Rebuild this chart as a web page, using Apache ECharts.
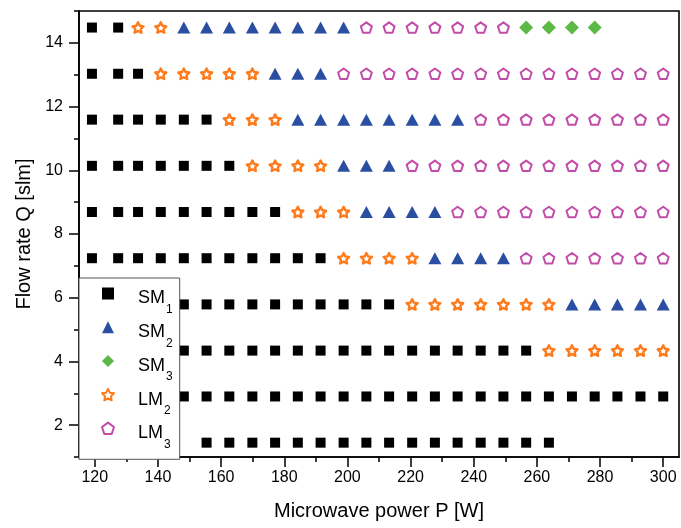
<!DOCTYPE html>
<html>
<head>
<meta charset="utf-8">
<script src="https://cdn.jsdelivr.net/npm/echarts@6/dist/echarts.min.js"></script>
<style>
  html, body { margin: 0; padding: 0; background: #fff; }
  #chart { width: 681px; height: 528px; }
</style>
</head>
<body>
<div id="chart"></div>
<script>
// Microwave power settings [W], one per measurement column
const powerW = [119.1, 127.4, 133.7, 140.9, 148.2, 155.4, 162.6, 169.9, 177.1, 184.3,
                191.5, 198.8, 206.0, 213.2, 220.5, 227.7, 234.9, 242.2, 249.4, 256.6,
                263.8, 271.1, 278.3, 285.5, 292.8, 300.0];

// Gas flow rates [slm], one per measurement row
const flowSlm = [1.45, 2.90, 4.34, 5.79, 7.24, 8.69, 10.14, 11.59, 13.03, 14.48];

// Discharge mode seen along each flow row: [mode, first power column, last power column]
const modeRuns = [
  [['SM1', 5, 20]],
  [['SM1', 4, 25]],
  [['SM1', 4, 19], ['LM2', 20, 25]],
  [['SM1', 4, 13], ['LM2', 14, 20], ['SM2', 21, 25]],
  [['SM1', 0, 10], ['LM2', 11, 14], ['SM2', 15, 18], ['LM3', 19, 25]],
  [['SM1', 0, 8],  ['LM2', 9, 11],  ['SM2', 12, 15], ['LM3', 16, 25]],
  [['SM1', 0, 6],  ['LM2', 7, 10],  ['SM2', 11, 13], ['LM3', 14, 25]],
  [['SM1', 0, 5],  ['LM2', 6, 8],   ['SM2', 9, 16],  ['LM3', 17, 25]],
  [['SM1', 0, 2],  ['LM2', 3, 7],   ['SM2', 8, 10],  ['LM3', 11, 25]],
  [['SM1', 0, 1],  ['LM2', 2, 3],   ['SM2', 4, 11],  ['LM3', 12, 18], ['SM3', 19, 22]]
];

const modes = ['SM1', 'SM2', 'SM3', 'LM2', 'LM3'];

// Axis ticks
const xMajorTicks = [120, 140, 160, 180, 200, 220, 240, 260, 280, 300];
const xMinorTicks = [130, 150, 170, 190, 210, 230, 250, 270, 290];
const yMajorTicks = [2, 4, 6, 8, 10, 12, 14];
const yMinorTicks = [1, 3, 5, 7, 9, 11, 13, 15];

const FONT = '"Liberation Sans", Arial, Helvetica, sans-serif';
const STAR = 'path://M50 0L64.69 29.77L97.55 34.55L73.78 57.73L79.39 90.45L50 75L20.61 90.45L26.22 57.73L2.45 34.55L35.31 29.77Z';
const PENTAGON = 'path://M50 0L97.55 34.55L79.39 90.45L20.61 90.45L2.45 34.55Z';

const modeStyle = {
  SM1: { symbol: 'rect', symbolSize: 10, itemStyle: { color: '#000000', opacity: 1 } },
  SM2: { symbol: 'triangle', symbolSize: [13, 12], itemStyle: { color: '#2a4fa2', opacity: 1 } },
  SM3: { symbol: 'diamond', symbolSize: 14, itemStyle: { color: '#5cb946', opacity: 1 } },
  LM2: { symbol: STAR, symbolSize: 11,
         itemStyle: { color: '#ffffff', borderColor: '#ff7a1a', borderWidth: 2.4, borderJoin: 'round', opacity: 1 } },
  LM3: { symbol: PENTAGON, symbolSize: 11,
         itemStyle: { color: '#ffffff', borderColor: '#c24ca8', borderWidth: 2, borderJoin: 'round', opacity: 1 } }
};

function pointsOf(mode) {
  const pts = [];
  modeRuns.forEach((runs, row) => {
    runs.forEach(([m, from, to]) => {
      if (m !== mode) return;
      for (let c = from; c <= to; c++) pts.push([powerW[c], flowSlm[row]]);
    });
  });
  return pts;
}

const series = modes.map(mode => Object.assign({
  name: mode,
  type: 'scatter',
  xAxisIndex: 0,
  yAxisIndex: 0,
  symbolKeepAspect: true,
  data: pointsOf(mode),
  emphasis: { disabled: true }
}, modeStyle[mode]));

const tickStyle = { color: '#000', width: 1.5 };

const chart = echarts.init(document.getElementById('chart'), null, { renderer: 'canvas' });
chart.setOption({
  animation: false,
  backgroundColor: '#fff',
  textStyle: { fontFamily: FONT },
  grid: {
    left: 79, right: 2, top: 11, bottom: 71,
    show: true, borderColor: '#000', borderWidth: 1.6, backgroundColor: 'transparent',
    outerBoundsMode: 'none'
  },
  xAxis: [
    {
      type: 'value', min: 115, max: 305, interval: 5, position: 'bottom',
      axisLine: { show: true, onZero: false, lineStyle: { color: '#000', width: 1.6 } },
      axisTick: { show: true, customValues: xMajorTicks, length: 10, lineStyle: tickStyle },
      axisLabel: { customValues: xMajorTicks, margin: 13, fontSize: 16, color: '#000', fontFamily: FONT },
      splitLine: { show: false },
      name: 'Microwave power P [W]', nameLocation: 'middle', nameGap: 44,
      nameTextStyle: { fontSize: 20, color: '#000', fontFamily: FONT }
    },
    {
      type: 'value', min: 115, max: 305, interval: 5, position: 'bottom',
      axisLine: { show: false },
      axisTick: { show: true, customValues: xMinorTicks, length: 5, lineStyle: tickStyle },
      axisLabel: { show: false },
      splitLine: { show: false }
    }
  ],
  yAxis: [
    {
      type: 'value', min: 1, max: 15, interval: 1, position: 'left',
      axisLine: { show: true, onZero: false, lineStyle: { color: '#000', width: 1.6 } },
      axisTick: { show: true, customValues: yMajorTicks, length: 10, lineStyle: tickStyle },
      axisLabel: { customValues: yMajorTicks, margin: 16, fontSize: 16, color: '#000', fontFamily: FONT },
      splitLine: { show: false },
      name: 'Flow rate Q [slm]', nameLocation: 'middle', nameGap: 45,
      nameTextStyle: { fontSize: 20, color: '#000', fontFamily: FONT }
    },
    {
      type: 'value', min: 1, max: 15, interval: 1, position: 'left',
      axisLine: { show: false },
      axisTick: { show: true, customValues: yMinorTicks, length: 5, lineStyle: tickStyle },
      axisLabel: { show: false },
      splitLine: { show: false }
    }
  ],
  legend: {
    orient: 'vertical',
    left: 79, top: 278,
    data: modes,
    itemWidth: 12, itemHeight: 12, itemGap: 1.7,
    padding: [5.5, 7, 9, 22],
    backgroundColor: '#fff', borderColor: '#555', borderWidth: 1,
    selectedMode: false,
    symbolKeepAspect: true,
    formatter: name => '{m|' + name.slice(0, 2) + '}{s|' + name.slice(2) + '}',
    textStyle: {
      color: '#000', fontFamily: FONT,
      rich: {
        m: { fontSize: 18, lineHeight: 20, padding: [6, 0, 0, 19], verticalAlign: 'top', color: '#000', fontFamily: FONT },
        s: { fontSize: 12, lineHeight: 12, padding: [20, 0, 0, 1], verticalAlign: 'top', color: '#000', fontFamily: FONT }
      }
    }
  },
  series: series
});
</script>
</body>
</html>
